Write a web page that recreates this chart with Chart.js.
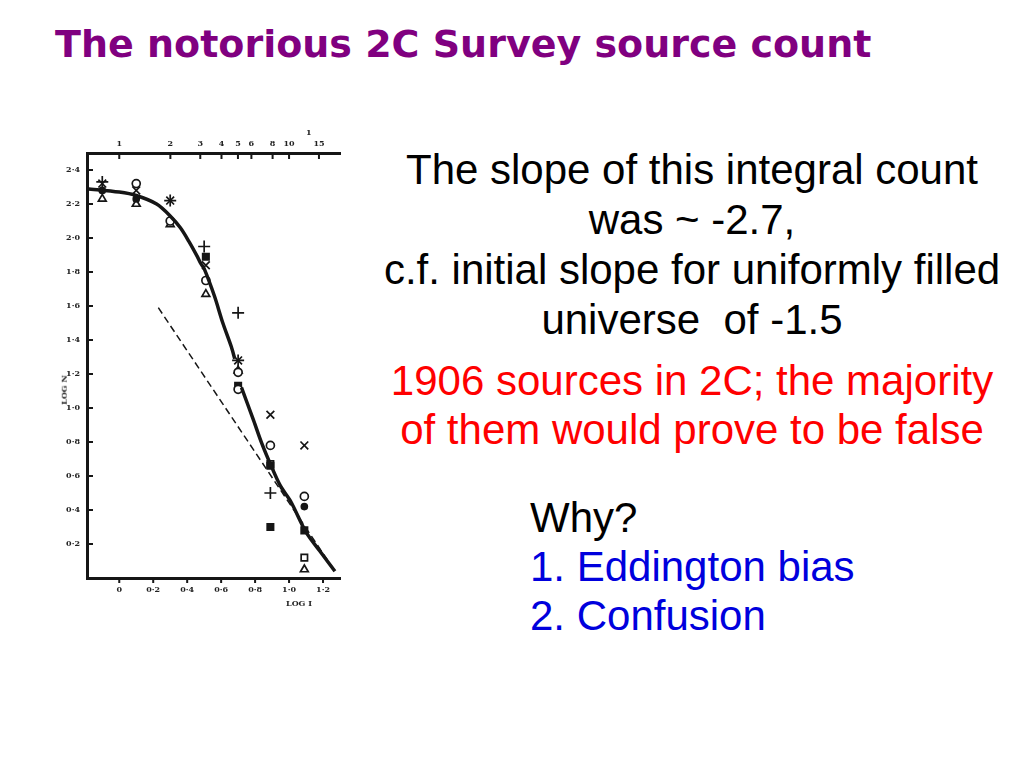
<!DOCTYPE html>
<html>
<head>
<meta charset="utf-8">
<script src="https://cdn.jsdelivr.net/npm/chart.js@4"></script>
<style>
  body { margin: 0; width: 1024px; height: 768px; background: #fff; position: relative; overflow: hidden; font-family: "Liberation Sans", Arial, sans-serif; }
  .t { position: absolute; white-space: nowrap; }
  #title { left: 55px; top: 22px; font-family: "DejaVu Sans", sans-serif; font-weight: bold; font-size: 38px; color: #800080; }
  .blk { left: 372px; width: 640px; text-align: center; font-size: 42px; color: #000; line-height: 50px; }
  .red { left: 372px; width: 640px; text-align: center; font-size: 42px; color: #ff0000; line-height: 49px; }
  .why { left: 530px; font-size: 42px; line-height: 49px; }
  .lbl { position: absolute; font-family: "DejaVu Serif", serif; font-weight: bold; font-size: 8px; color: #222; }
  #wrap { position: absolute; left: 40px; top: 110px; width: 320px; height: 505px; }
</style>
</head>
<body>
<div id="title" class="t">The notorious 2C Survey source count</div>
<div class="t blk" style="top:145px">The slope of this integral count<br>was ~ -2.7,<br>c.f. initial slope for uniformly filled<br>universe&nbsp; of -1.5</div>
<div class="t red" style="top:356px">1906 sources in 2C; the majority<br>of them would prove to be false</div>
<div class="t why" style="top:493px"><span style="color:#000">Why?</span><br><span style="color:#0000dd">1. Eddington bias</span><br><span style="color:#0000dd">2. Confusion</span></div>

<div id="wrap"><canvas id="myChart"></canvas></div>
<div class="lbl" style="left:49px; top:385px; transform: rotate(-90deg);">LOG N</div>
<div class="lbl" style="left:286px; top:598px;">LOG I</div>
<div class="lbl" style="left:306px; top:127px;">1</div>

<script>
// tick labels
var xTickValues = [0, 0.2, 0.4, 0.6, 0.8, 1.0, 1.2];
var xTickLabels = ["0", "0·2", "0·4", "0·6", "0·8", "1·0", "1·2"];
var yTickValues = [0.2, 0.4, 0.6, 0.8, 1.0, 1.2, 1.4, 1.6, 1.8, 2.0, 2.2, 2.4];
var yTickLabels = ["0·2", "0·4", "0·6", "0·8", "1·0", "1·2", "1·4", "1·6", "1·8", "2·0", "2·2", "2·4"];
var topTickValues = [1, 2, 3, 4, 5, 6, 8, 10, 15];
var topTickLabels = ["1", "2", "3", "4", "5", "6", "8", "10", "15"];

// fitted count curve (log I, log N), null = gap in the drawn line
var curveX = [-0.19, 0.0, 0.10, 0.22, 0.30, 0.36, 0.41, 0.46, 0.48, 0.50, 0.56, 0.61, 0.66, 0.68, 0.70, 0.72, 0.79, 0.84, 0.89, 0.95, 1.01, 1.10, 1.18, 1.27];
var curveY = [2.29, 2.27, 2.25, 2.20, 2.13, 2.06, 1.98, 1.89, 1.85, 1.82, 1.66, 1.50, 1.36, 1.29, null, 1.12, 0.93, 0.79, 0.67, 0.54, 0.45, 0.27, 0.16, 0.04];

// slope -1.5 reference line
var slopeX = [0.23, 1.27];
var slopeY = [1.59, 0.04];

// observed points, |b| > 10 deg
var dotX = [-0.10, 0.10, 1.09];
var dotY = [2.28, 2.23, 0.42];
var ringX = [0.10, 0.30, 0.51, 0.70, 0.70, 0.89, 1.09];
var ringY = [2.32, 2.10, 1.75, 1.21, 1.11, 0.78, 0.48];
var sqX = [0.51, 0.70, 0.89, 0.89, 1.09];
var sqY = [1.89, 1.13, 0.66, 0.30, 0.28];
var boxX = [0.89, 1.09];
var boxY = [0.67, 0.12];
var triX = [-0.10, 0.10, 0.30, 0.51, 0.70, 1.09];
var triY = [2.23, 2.20, 2.08, 1.67, 1.22, 0.05];
// |b| < 10 deg
var plusX = [-0.10, 0.30, 0.50, 0.70, 0.70, 0.89];
var plusY = [2.33, 2.22, 1.95, 1.56, 1.28, 0.50];
var crossX = [-0.10, 0.10, 0.30, 0.51, 0.70, 0.89, 1.09];
var crossY = [2.32, 2.28, 2.22, 1.84, 1.28, 0.96, 0.78];

function pts(xs, ys) {
    return xs.map(function (v, i) { return { x: v, y: ys[i] }; });
}

var ink = '#161616';

function markers(xs, ys, style, fill, r) {
    return {
        data: pts(xs, ys),
        pointStyle: style,
        pointRadius: r,
        pointBorderWidth: 1.7,
        borderColor: ink,
        backgroundColor: fill,
        showLine: false,
        clip: false
    };
}

// inward tick marks like the original figure
var tickMarks = {
    id: 'tickMarks',
    afterDraw: function (chart) {
        var ctx = chart.ctx, s = chart.scales;
        ctx.save();
        ctx.strokeStyle = ink;
        ctx.lineWidth = 2;
        ctx.beginPath();
        s.y.ticks.forEach(function (t) {
            var py = s.y.getPixelForValue(t.value);
            ctx.moveTo(s.y.right, py); ctx.lineTo(s.y.right + 6, py);
        });
        s.x2.ticks.forEach(function (t) {
            var px = s.x2.getPixelForValue(t.value);
            ctx.moveTo(px, s.x2.bottom); ctx.lineTo(px, s.x2.bottom + 6);
        });
        s.x.ticks.forEach(function (t) {
            var px = s.x.getPixelForValue(t.value);
            ctx.moveTo(px, s.x.top); ctx.lineTo(px, s.x.top + 5);
        });
        ctx.stroke();
        ctx.restore();
    }
};

var tickFont = { family: 'DejaVu Serif', size: 8, weight: 'bold' };

var ctx = document.getElementById('myChart').getContext('2d');
var chart = new Chart(ctx, {
    type: 'scatter',
    data: {
        datasets: [
            {
                data: pts(curveX, curveY),
                showLine: true,
                borderColor: ink,
                borderWidth: 3.5,
                pointRadius: 0,
                tension: 0.3,
                spanGaps: false,
                clip: false
            },
            {
                data: pts(slopeX, slopeY),
                showLine: true,
                borderColor: ink,
                borderWidth: 1.5,
                borderDash: [7, 4],
                pointRadius: 0,
                clip: false
            },
            markers(dotX, dotY, 'circle', ink, 3),
            markers(ringX, ringY, 'circle', '#fff', 4),
            markers(sqX, sqY, 'rect', ink, 4.5),
            markers(boxX, boxY, 'rect', '#fff', 4.5),
            markers(triX, triY, 'triangle', '#fff', 4.5),
            markers(plusX, plusY, 'cross', ink, 6),
            markers(crossX, crossY, 'crossRot', ink, 5.5)
        ]
    },
    options: {
        responsive: true,
        maintainAspectRatio: false,
        animation: false,
        layout: { padding: { left: 0, right: 20, top: 0, bottom: 0 } },
        plugins: { legend: { display: false }, tooltip: { enabled: false } },
        scales: {
            x: {
                type: 'linear', position: 'bottom', min: -0.19, max: 1.3,
                grid: { display: false, drawTicks: false },
                border: { display: true, color: ink, width: 3 },
                afterBuildTicks: function (s) { s.ticks = xTickValues.map(function (v) { return { value: v }; }); },
                afterFit: function (s) { s.height = 37; },
                ticks: {
                    autoSkip: false, maxRotation: 0, padding: 7, color: '#222', font: tickFont,
                    callback: function (v, i) { return xTickLabels[i]; }
                }
            },
            x2: {
                type: 'linear', position: 'top', min: -0.19, max: 1.3,
                grid: { display: false, drawTicks: false },
                border: { display: true, color: ink, width: 3 },
                afterBuildTicks: function (s) { s.ticks = topTickValues.map(function (v) { return { value: Math.log10(v) }; }); },
                afterFit: function (s) { s.height = 43; },
                ticks: {
                    autoSkip: false, maxRotation: 0, padding: 4, color: '#222', font: tickFont,
                    callback: function (v, i) { return topTickLabels[i]; }
                }
            },
            y: {
                type: 'linear', position: 'left', min: 0, max: 2.5,
                grid: { display: false, drawTicks: false },
                border: { display: true, color: ink, width: 3 },
                afterBuildTicks: function (s) { s.ticks = yTickValues.map(function (v) { return { value: v }; }); },
                afterFit: function (s) { s.width = 47; },
                ticks: {
                    autoSkip: false, padding: 7, color: '#222', font: tickFont,
                    callback: function (v, i) { return yTickLabels[i]; }
                }
            }
        }
    },
    plugins: [tickMarks]
});
</script>
</body>
</html>
